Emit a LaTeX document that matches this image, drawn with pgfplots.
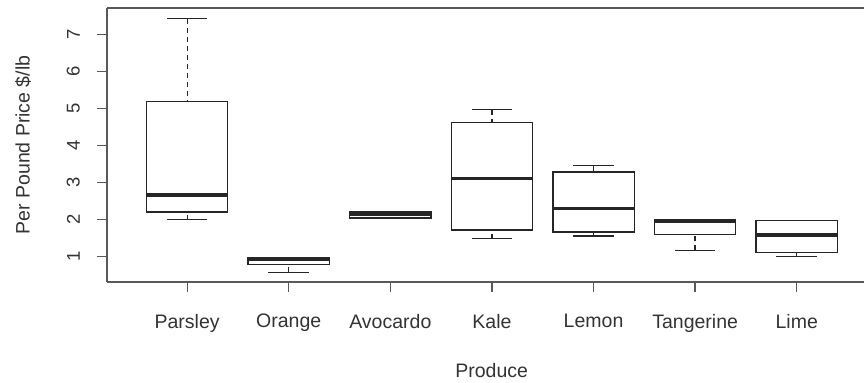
\documentclass[border=0pt]{standalone}
\usepackage{pgfplots}
\pgfplotsset{compat=1.18}
\usepgfplotslibrary{statistics}
\usepackage{fontspec}
\setmainfont{Liberation Sans}
\definecolor{boxc}{gray}{0.15}
\definecolor{axc}{gray}{0.35}
\definecolor{txt}{gray}{0.2}
\begin{document}
\begin{tikzpicture}
\begin{axis}[
  name=ax,
  scale only axis,
  width=757bp, height=274bp,
  xmin=0.211, xmax=7.662,
  ymin=0.32, ymax=7.71,
  axis x line*=bottom,
  axis y line*=left,
  axis line style={axc, line width=1.3bp},
  every tick/.style={axc, line width=1.3bp},
  tick align=outside,
  major tick length=10bp,
  xtick={1,2,3,4,5,6,7},
  xticklabels={Parsley,Orange,Avocardo,Kale,Lemon,Tangerine,Lime},
  ytick={1,2,3,4,5,6,7},
  /pgf/number format/assume math mode=true,
  font=\fontsize{19.5bp}{23bp}\selectfont\color{txt},
  xticklabel style={anchor=north, inner sep=0pt, yshift=-22bp},
  yticklabel style={rotate=90, anchor=south, inner xsep=0pt, inner ysep=17bp, font=\fontsize{18.5bp}{22bp}\selectfont\color{txt}},
  xlabel={Produce},
  xlabel style={at={(axis description cs:0.5082,-0.2956)}, anchor=north, inner sep=0pt},
  ylabel={Per Pound Price \$/lb},
  ylabel style={at={(axis description cs:-0.1215,0.5)}, anchor=north, rotate=0, inner sep=0pt},
  boxplot/draw direction=y,
  boxplot/box extend=0.8,
  boxplot/whisker extend=0.4,
  boxplot/every box/.style={draw=boxc, line width=1.3bp},
  boxplot/every median/.style={draw=boxc, line width=3.6bp},
  boxplot/draw/lower whisker/.code={%
    \draw[boxc, line width=1.3bp, dash pattern=on 5bp off 4bp]
      (boxplot box cs:\pgfplotsboxplotvalue{lower whisker},0.5) --
      (boxplot box cs:\pgfplotsboxplotvalue{lower quartile},0.5);
    \draw[boxc, line width=1.3bp, solid]
      (boxplot whisker cs:\pgfplotsboxplotvalue{lower whisker},0) --
      (boxplot whisker cs:\pgfplotsboxplotvalue{lower whisker},1);
  },
  boxplot/draw/upper whisker/.code={%
    \draw[boxc, line width=1.3bp, dash pattern=on 5bp off 4bp]
      (boxplot box cs:\pgfplotsboxplotvalue{upper whisker},0.5) --
      (boxplot box cs:\pgfplotsboxplotvalue{upper quartile},0.5);
    \draw[boxc, line width=1.3bp, solid]
      (boxplot whisker cs:\pgfplotsboxplotvalue{upper whisker},0) --
      (boxplot whisker cs:\pgfplotsboxplotvalue{upper whisker},1);
  },
]
% Parsley
\addplot[boxc, boxplot prepared={draw position=1, lower whisker=2.0, lower quartile=2.21, median=2.66, upper quartile=5.18, upper whisker=7.42}] coordinates {};
% Orange
\addplot[boxc, boxplot prepared={draw position=2, lower whisker=0.58, lower quartile=0.79, median=0.93, upper quartile=0.99, upper whisker=0.99}] coordinates {};
% Avocardo
\addplot[boxc, boxplot prepared={draw position=3, lower whisker=2.05, lower quartile=2.05, median=2.15, upper quartile=2.23, upper whisker=2.23}] coordinates {};
% Kale
\addplot[boxc, boxplot prepared={draw position=4, lower whisker=1.49, lower quartile=1.72, median=3.11, upper quartile=4.62, upper whisker=4.97}] coordinates {};
% Lemon
\addplot[boxc, boxplot prepared={draw position=5, lower whisker=1.56, lower quartile=1.67, median=2.30, upper quartile=3.29, upper whisker=3.46}] coordinates {};
% Tangerine
\addplot[boxc, boxplot prepared={draw position=6, lower whisker=1.17, lower quartile=1.60, median=1.96, upper quartile=2.01, upper whisker=2.01}] coordinates {};
% Lime
\addplot[boxc, boxplot prepared={draw position=7, lower whisker=1.0, lower quartile=1.12, median=1.59, upper quartile=1.98, upper whisker=1.98}] coordinates {};
\end{axis}
\draw[axc, line width=1.3bp] (ax.north west) -- (ax.north east);
\pgfresetboundingbox
\useasboundingbox (-107bp,-101bp) rectangle (757bp,282bp);
\end{tikzpicture}
\end{document}
